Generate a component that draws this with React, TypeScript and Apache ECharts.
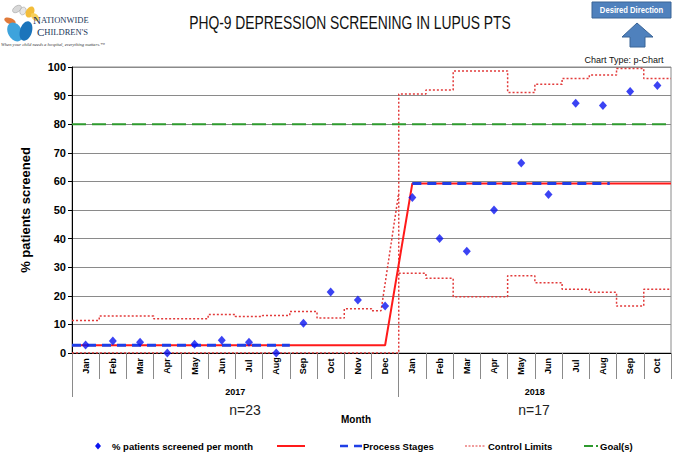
import React, { useEffect, useRef } from "react";
import * as echarts from "echarts";

// ---- data ----
const months = ["Jan","Feb","Mar","Apr","May","Jun","Jul","Aug","Sep","Oct","Nov","Dec","Jan","Feb","Mar","Apr","May","Jun","Jul","Aug","Sep","Oct"];
const years = ["2017", "2018"];
const yearLabelAt = [6, 17];
const yearBounds = [0, 12];
const pctScreened = [2.8, 4.2, 3.8, 0, 3.1, 4.5, 3.8, 0, 10.4, 21.3, 18.5, 16.4, 54.4, 40, 35.6, 50, 66.4, 55.4, 87.3, 86.5, 91.4, 93.5];
const centerLine = [2.7, 59.3];
const upperLimit = [11.4, 12.9, 12.9, 12.0, 12.0, 13.5, 12.8, 13.1, 14.5, 12.2, 15.5, 14.8, 90.6, 92.0, 98.6, 98.6, 91.1, 94.0, 96.0, 97.2, 99.5, 96.0];
const lowerLimit = [0, 0, 0, 0, 0, 0, 0, 0, 0, 0, 0, 0, 27.9, 26.1, 19.7, 19.7, 27.0, 24.6, 22.3, 21.2, 16.4, 22.3];
const upperConnectorEnd = 56;
const processStageEnd = [8, 19.75];
const goal = 80;
const yTicks = { min: 0, max: 100, interval: 10 };

const NARROW = "'Liberation Sans Narrow', 'Arial Narrow', 'Liberation Sans', Arial, sans-serif";
const SANS = "'Liberation Sans', Arial, sans-serif";

function steps(vals: number[], from: number, to: number): number[][] {
  const out: number[][] = [];
  for (let i = from; i < to; i++) {
    out.push([i, vals[i]]);
    out.push([i + 1, vals[i]]);
  }
  return out;
}

export default function App() {
  const ref = useRef<HTMLDivElement>(null);
  useEffect(() => {
    document.body.style.margin = "0";
    if (!ref.current) return;
    const chart = echarts.init(ref.current, undefined, { renderer: "svg" });
    const n = months.length;
    const s2 = yearBounds[1];

    const uclA = steps(upperLimit, 0, s2 - 1).concat([
      [s2 - 1, upperLimit[s2 - 1]],
      [s2 - 0.65, upperLimit[s2 - 1]],
      [s2, upperConnectorEnd],
    ]);
    const uclB = [[0, lowerLimit[0]], [s2, lowerLimit[s2 - 1]], [s2, upperLimit[s2]]].concat(steps(upperLimit, s2, n));
    const lclC = steps(lowerLimit, s2, n);

    const dotted = { color: "#e23b3b", width: 1.5, type: [2, 2] as any };
    const legendText = { fontSize: 9.5, fontWeight: "bold", fontFamily: NARROW, fill: "#000", verticalAlign: "middle" };

    const option: any = {
      animation: false,
      grid: { left: 72, right: 14, top: 67, bottom: 103, show: true, borderColor: "#8a8a8a", borderWidth: 1 },
      xAxis: [
        {
          type: "value", min: 0, max: n, position: "bottom",
          axisLine: { show: true, lineStyle: { color: "#000", width: 1 } },
          axisTick: { show: false }, axisLabel: { show: false }, splitLine: { show: false },
        },
        {
          type: "category", data: months, position: "bottom", boundaryGap: true,
          axisLine: { show: false },
          axisTick: { show: true, length: 26, interval: 0, alignWithLabel: false, lineStyle: { color: "#8a8a8a" } },
          axisLabel: {
            interval: 0, rotate: 90, fontSize: 9, fontWeight: "bold", fontFamily: NARROW, color: "#000",
            margin: 13, align: "center", verticalAlign: "middle",
          },
        },
        {
          type: "value", min: 0, max: n, position: "bottom", offset: 26,
          axisLine: { show: false },
          axisTick: { show: true, length: 18, customValues: yearBounds, lineStyle: { color: "#8a8a8a" } },
          axisLabel: {
            customValues: yearLabelAt, margin: 8, fontSize: 9, fontWeight: "bold", fontFamily: NARROW, color: "#000",
            formatter: (v: number) => years[yearLabelAt.indexOf(v)] ?? "",
          },
          splitLine: { show: false },
        },
      ],
      yAxis: {
        type: "value", min: yTicks.min, max: yTicks.max, interval: yTicks.interval,
        name: "% patients screened", nameLocation: "middle", nameGap: 40, nameRotate: 90,
        nameTextStyle: { fontSize: 13, fontWeight: "bold", fontFamily: SANS, color: "#000" },
        axisLine: { show: true, lineStyle: { color: "#000" } },
        axisTick: { show: true, length: 4, lineStyle: { color: "#000" } },
        axisLabel: { fontSize: 11, fontWeight: "bold", fontFamily: SANS, color: "#000", margin: 6 },
        splitLine: { show: true, lineStyle: { color: "#8a8a8a", width: 1 } },
      },
      series: [
        { name: "Control Limits", type: "line", symbol: "none", data: uclA, lineStyle: dotted, z: 2 },
        { name: "Control Limits", type: "line", symbol: "none", data: uclB, lineStyle: dotted, z: 2 },
        { name: "Control Limits", type: "line", symbol: "none", data: lclC, lineStyle: dotted, z: 2 },
        { name: "Goal(s)", type: "line", symbol: "none", data: [[0, goal], [n, goal]], lineStyle: { color: "#2e9a2e", width: 2, type: [14, 6] }, z: 3 },
        {
          name: "center", type: "line", symbol: "none",
          data: [[0, centerLine[0]], [s2 - 0.5, centerLine[0]], [s2 + 0.5, centerLine[1]], [n, centerLine[1]]],
          lineStyle: { color: "#ff1a1a", width: 2 }, z: 4,
        },
        { name: "Process Stages", type: "line", symbol: "none", data: [[0, centerLine[0]], [processStageEnd[0], centerLine[0]]], lineStyle: { color: "#1f3fe6", width: 3, type: [9, 6] }, z: 5 },
        { name: "Process Stages", type: "line", symbol: "none", data: [[s2 + 0.5, centerLine[1]], [processStageEnd[1], centerLine[1]]], lineStyle: { color: "#1f3fe6", width: 3, type: [9, 6] }, z: 5 },
        {
          name: "% patients screened per month", type: "scatter", symbol: "diamond", symbolSize: [8, 9],
          data: pctScreened.map((v, i) => [i + 0.5, v]), itemStyle: { color: "#0a14f0" }, z: 6,
        },
      ],
      graphic: [
        // title
        { type: "text", x: 350, y: 22, scaleX: 0.77, style: { text: "PHQ-9 DEPRESSION SCREENING IN LUPUS PTS", fontSize: 18, fontFamily: NARROW, fill: "#111", align: "center", verticalAlign: "middle" } },
        // logo butterflies
        { type: "ellipse", x: 17, y: 9, rotation: 0.6, shape: { cx: 0, cy: 0, rx: 5, ry: 3 }, style: { fill: "#d8d8d8", stroke: "#9a9a9a", lineWidth: 0.5 } },
        { type: "ellipse", x: 23, y: 11, rotation: -0.4, shape: { cx: 0, cy: 0, rx: 3, ry: 4 }, style: { fill: "#e6e6e6", stroke: "#9a9a9a", lineWidth: 0.5 } },
        { type: "ellipse", x: 30, y: 12, rotation: -0.5, shape: { cx: 0, cy: 0, rx: 4, ry: 6 }, style: { fill: "#f3bd3a" } },
        { type: "ellipse", x: 35, y: 17, rotation: 0.8, shape: { cx: 0, cy: 0, rx: 3, ry: 5 }, style: { fill: "#f7cf5a" } },
        { type: "ellipse", x: 10, y: 21, rotation: 1.2, shape: { cx: 0, cy: 0, rx: 3, ry: 6 }, style: { fill: "#e07a3a" } },
        { type: "ellipse", x: 15, y: 32, rotation: 0.5, shape: { cx: 0, cy: 0, rx: 7, ry: 10 }, style: { fill: "#3ea3dc" } },
        { type: "ellipse", x: 26, y: 31, rotation: -0.3, shape: { cx: 0, cy: 0, rx: 6, ry: 10 }, style: { fill: "#1b74bb" } },
        {
          type: "text", x: 33, y: 25,
          style: { text: "{a|N}{b|ATIONWIDE}", verticalAlign: "bottom", rich: { a: { fontSize: 11, fontFamily: "'Liberation Serif', serif", fill: "#22385a" }, b: { fontSize: 8.5, fontFamily: "'Liberation Serif', serif", fill: "#22385a" } } },
        },
        {
          type: "text", x: 37, y: 37,
          style: { text: "{a|C}{b|HILDREN'S}", verticalAlign: "bottom", rich: { a: { fontSize: 11, fontFamily: "'Liberation Serif', serif", fill: "#22385a" }, b: { fontSize: 8.5, fontFamily: "'Liberation Serif', serif", fill: "#22385a" } } },
        },
        { type: "text", x: 1, y: 44, style: { text: "When your child needs a hospital, everything matters.\u2122", fontSize: 4.6, fontStyle: "italic", fontFamily: "'Liberation Serif', serif", fill: "#333", verticalAlign: "middle" } },
        // desired direction
        { type: "rect", shape: { x: 592, y: 2, width: 79, height: 16 }, style: { fill: "#4f81bd", stroke: "#3a6496", lineWidth: 1 } },
        { type: "text", x: 631.5, y: 10, scaleX: 0.85, style: { text: "Desired Direction", fontSize: 9, fontWeight: "bold", fontFamily: NARROW, fill: "#fff", align: "center", verticalAlign: "middle" } },
        { type: "polygon", shape: { points: [[637, 23], [653, 37], [645, 37], [645, 47], [630, 47], [630, 37], [622, 37]] }, style: { fill: "#4f81bd", stroke: "#3a6496", lineWidth: 1 } },
        { type: "text", x: 624, y: 60, style: { text: "Chart Type: p-Chart", fontSize: 9, fontFamily: NARROW, fill: "#111", align: "center", verticalAlign: "middle" } },
        // under-axis notes
        { type: "text", x: 245, y: 410, style: { text: "n=23", fontSize: 14, fontFamily: SANS, fill: "#222", align: "center", verticalAlign: "middle" } },
        { type: "text", x: 534, y: 410, style: { text: "n=17", fontSize: 14, fontFamily: SANS, fill: "#222", align: "center", verticalAlign: "middle" } },
        { type: "text", x: 356, y: 419, style: { text: "Month", fontSize: 10, fontWeight: "bold", fontFamily: NARROW, fill: "#000", align: "center", verticalAlign: "middle" } },
        // legend
        { type: "polygon", shape: { points: [[98, 442.5], [101, 446], [98, 449.5], [95, 446]] }, style: { fill: "#0a14f0" } },
        { type: "text", x: 112, y: 446, style: { text: "% patients screened per month", ...legendText } },
        { type: "line", shape: { x1: 277, y1: 446, x2: 305, y2: 446 }, style: { stroke: "#ff1a1a", lineWidth: 2 } },
        { type: "line", shape: { x1: 340, y1: 446, x2: 362, y2: 446 }, style: { stroke: "#1f3fe6", lineWidth: 2.5, lineDash: [8, 6] } },
        { type: "text", x: 363, y: 446, style: { text: "Process Stages", ...legendText } },
        { type: "line", shape: { x1: 465, y1: 446, x2: 486, y2: 446 }, style: { stroke: "#e23b3b", lineWidth: 1.2, lineDash: [2, 1.5] } },
        { type: "text", x: 488, y: 446, style: { text: "Control Limits", ...legendText } },
        { type: "line", shape: { x1: 584, y1: 446, x2: 598, y2: 446 }, style: { stroke: "#2e9a2e", lineWidth: 2, lineDash: [9, 3] } },
        { type: "text", x: 600, y: 446, style: { text: "Goal(s)", ...legendText } },
      ],
    };
    chart.setOption(option);
    return () => chart.dispose();
  }, []);
  return <div ref={ref} style={{ width: 685, height: 456 }} />;
}
